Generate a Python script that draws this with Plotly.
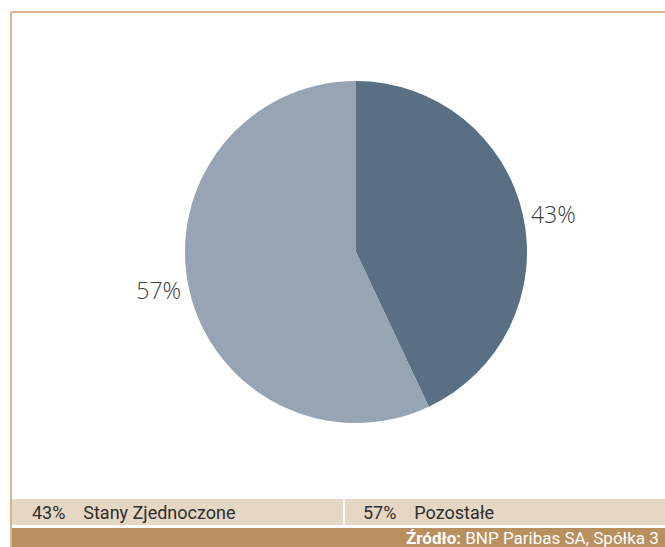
import plotly.graph_objects as go

W, H = 665, 547

labels = ["Stany Zjednoczone", "Pozostałe"]
values = [43, 57]
colors = ["#5b6f83", "#97a4b3"]
source = "Źródło:"
source_text = "BNP Paribas SA, Spółka 3"


def px(x):
    return x / W


def py(y):
    return 1 - y / H


cx, cy, r = 356, 252, 171

fig = go.Figure(go.Pie(
    labels=labels,
    values=values,
    sort=False,
    direction="clockwise",
    rotation=0,
    marker=dict(colors=colors, line=dict(width=0)),
    textinfo="percent",
    texttemplate="%{value}%",
    textposition="outside",
    textfont=dict(family="Open Sans", size=23, color="#3a3a3a", weight=300),
    hoverinfo="label+percent",
    showlegend=False,
    domain=dict(x=[px(cx - r), px(cx + r)], y=[py(cy + r), py(cy - r)]),
))

shapes = [
    # frame
    dict(type="line", x0=px(11), x1=px(W + 10), y0=py(12), y1=py(12),
         line=dict(color="#d8b68f", width=2)),
    dict(type="line", x0=px(11), x1=px(11), y0=py(12), y1=py(H + 10),
         line=dict(color="#d8b68f", width=2)),
    # legend strip
    dict(type="rect", x0=px(12), x1=px(W + 10), y0=py(525), y1=py(499),
         fillcolor="#e6d6c4", line=dict(width=0), layer="below"),
    dict(type="line", x0=px(344), x1=px(344), y0=py(525), y1=py(499),
         line=dict(color="white", width=2)),
    # source bar
    dict(type="rect", x0=px(12), x1=px(W + 10), y0=py(H + 10), y1=py(528),
         fillcolor="#b98f5e", line=dict(width=0), layer="below"),
]

annotations = []
starts = [30, 361]
for i, (lab, val) in enumerate(zip(labels, values)):
    annotations.append(dict(
        x=px(starts[i]), y=py(512), xref="paper", yref="paper",
        xanchor="left", yanchor="middle", showarrow=False,
        text=f"{val}%&nbsp;&nbsp;&nbsp;&nbsp;{lab}",
        font=dict(family="Roboto", size=18, color="#2e2e2e"),
    ))
# source line: right-aligned so it stays fully inside the window
annotations.append(dict(
    x=px(661), y=py(538), xref="paper", yref="paper",
    xanchor="right", yanchor="middle", showarrow=False,
    text=f"<b>{source}</b> {source_text}",
    font=dict(family="Roboto", size=17, color="white"),
))

fig.update_layout(
    width=W, height=H,
    margin=dict(l=0, r=0, t=0, b=0),
    paper_bgcolor="white",
    plot_bgcolor="white",
    shapes=shapes,
    annotations=annotations,
)

# drop the default page margin so the figure sits flush in the window
fig.write_html("out.html", config={"displayModeBar": False},
               post_script="document.body.style.margin='0';document.body.style.overflow='hidden';")
